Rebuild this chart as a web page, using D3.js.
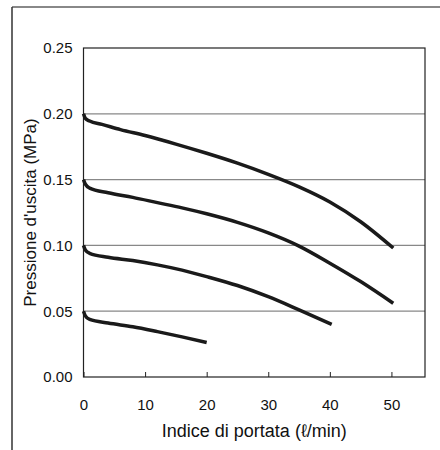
<!DOCTYPE html>
<html>
<head>
<meta charset="utf-8">
<script src="https://cdn.jsdelivr.net/npm/d3@7"></script>
<style>
  body { margin: 0; background: #fff; }
  text { font-family: "Liberation Sans", Arial, sans-serif; fill: #111; }
</style>
</head>
<body>
<script>
// curves: [flow l/min, outlet pressure MPa]
var curve020 = [[0,0.200],[0.3,0.1965],[1,0.1945],[3,0.192],[6,0.188],[10,0.1835],[15,0.177],[20,0.170],[25,0.1625],[30,0.154],[35,0.1445],[40,0.133],[45,0.118],[50.3,0.098]];
var curve015 = [[0,0.150],[0.3,0.1465],[1,0.1435],[4,0.140],[8,0.1365],[12,0.1325],[16,0.1285],[20,0.124],[25,0.1175],[30,0.1095],[35,0.0995],[40,0.0865],[45,0.0725],[50.3,0.056]];
var curve010 = [[0,0.100],[0.3,0.0965],[1,0.094],[4,0.091],[8,0.0885],[12,0.0852],[16,0.0812],[20,0.0763],[25,0.0695],[30,0.061],[35,0.051],[40.3,0.040]];
var curve005 = [[0,0.050],[0.3,0.0465],[1,0.0437],[4,0.041],[8,0.0382],[12,0.0345],[16,0.0305],[20,0.0262]];
var curves = [curve020, curve015, curve010, curve005];

var xTicks = [0, 10, 20, 30, 40, 50];
var yTicks = [0, 0.05, 0.10, 0.15, 0.20, 0.25];
var xTitle = "Indice di portata (\u2113/min)";
var yTitle = "Pressione d'uscita (MPa)";

var width = 440, height = 450;
var margin = {left: 83.5, right: 15, top: 48, bottom: 73};

var svg = d3.select("body").append("svg")
    .attr("width", width)
    .attr("height", height);

// outer frame (top and left only)
svg.append("line").attr("x1", 12).attr("x2", width).attr("y1", 7).attr("y2", 7)
    .attr("stroke", "#888").attr("stroke-width", 2);
svg.append("line").attr("x1", 12).attr("x2", 12).attr("y1", 7).attr("y2", height)
    .attr("stroke", "#333").attr("stroke-width", 1.5);

var x = d3.scaleLinear().domain([0, 55.45]).range([margin.left, width - margin.right]);
var y = d3.scaleLinear().domain([0, 0.25]).range([height - margin.bottom, margin.top]);

// grid lines
svg.append("g").selectAll("line")
    .data(yTicks.filter(function (d) { return d > 0 && d < 0.25; }))
    .enter().append("line")
    .attr("x1", x(0)).attr("x2", x(55.45))
    .attr("y1", function (d) { return y(d); })
    .attr("y2", function (d) { return y(d); })
    .attr("stroke", "#888").attr("stroke-width", 1.3);

// plot box
svg.append("rect")
    .attr("x", x(0)).attr("y", y(0.25))
    .attr("width", x(55.45) - x(0)).attr("height", y(0) - y(0.25))
    .attr("fill", "none").attr("stroke", "#222").attr("stroke-width", 1.2);

// x axis: inner ticks
var xAxis = svg.append("g")
    .attr("transform", "translate(0," + y(0) + ")")
    .call(d3.axisBottom(x).tickValues(xTicks).tickSizeInner(-5).tickSizeOuter(0).tickPadding(22));
xAxis.select(".domain").remove();
xAxis.selectAll("line").attr("stroke", "#222");
xAxis.selectAll("text").attr("font-size", 15).style("font-family", "'Liberation Sans', Arial, sans-serif").attr("fill", "#111");

var yAxis = svg.append("g")
    .attr("transform", "translate(" + x(0) + ",0)")
    .call(d3.axisLeft(y).tickValues(yTicks).tickFormat(d3.format(".2f")).tickSize(0).tickPadding(11));
yAxis.select(".domain").remove();
yAxis.selectAll("text").attr("font-size", 15).style("font-family", "'Liberation Sans', Arial, sans-serif").attr("fill", "#111");

// curves
var line = d3.line()
    .x(function (d) { return x(d[0]); })
    .y(function (d) { return y(d[1]); })
    .curve(d3.curveMonotoneX);

svg.append("g").selectAll("path")
    .data(curves)
    .enter().append("path")
    .attr("d", line)
    .attr("fill", "none")
    .attr("stroke", "#1a1a1a")
    .attr("stroke-width", 3.5)
    .attr("stroke-linecap", "butt");

// titles
svg.append("text")
    .attr("x", (x(0) + x(55.45)) / 2)
    .attr("y", 437)
    .attr("text-anchor", "middle")
    .attr("font-size", 18)
    .text(xTitle);

svg.append("text")
    .attr("transform", "translate(36," + (y(0) + y(0.25)) / 2 + ") rotate(-90)")
    .attr("text-anchor", "middle")
    .attr("font-size", 17)
    .text(yTitle);
</script>
</body>
</html>
